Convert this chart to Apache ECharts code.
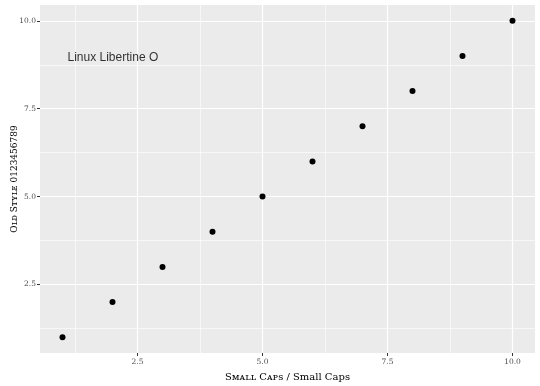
<!DOCTYPE html>
<html><head><meta charset="utf-8">
<script src="https://cdn.jsdelivr.net/npm/echarts@6/dist/echarts.min.js"></script>
<style>html,body{margin:0;padding:0;background:#fff}#c{width:540px;height:386px}</style>
</head><body><div id="c"></div>
<script>
const xValues = [1,2,3,4,5,6,7,8,9,10];
const yValues = [1,2,3,4,5,6,7,8,9,10];
const majorTicks = [2.5, 5.0, 7.5, 10.0];
const minorTicks = [1.25, 3.75, 6.25, 8.75];
const tickLabels = ['2.5','5.0','7.5','10.0'];
const annotation = {x: 1.1, y: 8.95, text: 'Linux Libertine O'};
const xTitle = 'Sᴍᴀʟʟ Cᴀᴘs / Small Caps';
const yTitle = 'Oʟᴅ Sᴛʏʟᴇ 0123456789';

const chart = echarts.init(document.getElementById('c'), null, {renderer:'canvas'});
const serif = '"DejaVu Serif","Liberation Serif",serif';
function gridLines(axis){
  const d = [];
  minorTicks.forEach(v => d.push({[axis]: v, lineStyle:{color:'#fff', width:0.6, type:'solid'}}));
  majorTicks.forEach(v => d.push({[axis]: v, lineStyle:{color:'#fff', width:1.2, type:'solid'}}));
  return d;
}
function axisCommon(margin){
  return {
    min: 0.55, max: 10.45,
    splitLine:{show:false},
    axisLine:{show:false},
    axisTick:{show:true, customValues: majorTicks, length:3, lineStyle:{color:'#333', width:1}},
    axisLabel:{customValues: majorTicks, color:'#4D4D4D', fontFamily: serif, fontSize:7.5, margin: margin,
      formatter: v => tickLabels[majorTicks.indexOf(+v)] ?? String(v)}
  };
}
chart.setOption({
  animation:false,
  grid:{left:40, right:5, top:5, bottom:33, show:true, backgroundColor:'#EBEBEB', borderWidth:0,
    containLabel:false, outerBoundsMode:'none'},
  xAxis: Object.assign({type:'value', name: xTitle, nameLocation:'middle', nameGap:19, nameMoveOverlap:false,
    nameTextStyle:{fontFamily: serif, fontSize:10, color:'#000'}}, axisCommon(5)),
  yAxis: Object.assign({type:'value', name: yTitle, nameLocation:'middle', nameGap:21, nameMoveOverlap:false,
    nameTextStyle:{fontFamily: serif, fontSize:9, color:'#000'}}, axisCommon(4)),
  series:[
    {type:'line', data:[], silent:true, z:1,
     markLine:{silent:true, z:1, symbol:'none', label:{show:false}, animation:false,
       data: gridLines('xAxis').concat(gridLines('yAxis'))}},
    {type:'scatter', z:10, data: xValues.map((x,i)=>[x, yValues[i]]), symbolSize:6,
     itemStyle:{color:'#000', opacity:1}},
    {type:'scatter', z:11, data:[[annotation.x, annotation.y]], symbolSize:0,
     label:{show:true, position:'right', distance:0, formatter: annotation.text,
       fontFamily:'"Liberation Sans",Arial,sans-serif', fontSize:12, color:'#000'}}
  ]
});
</script></body></html>
